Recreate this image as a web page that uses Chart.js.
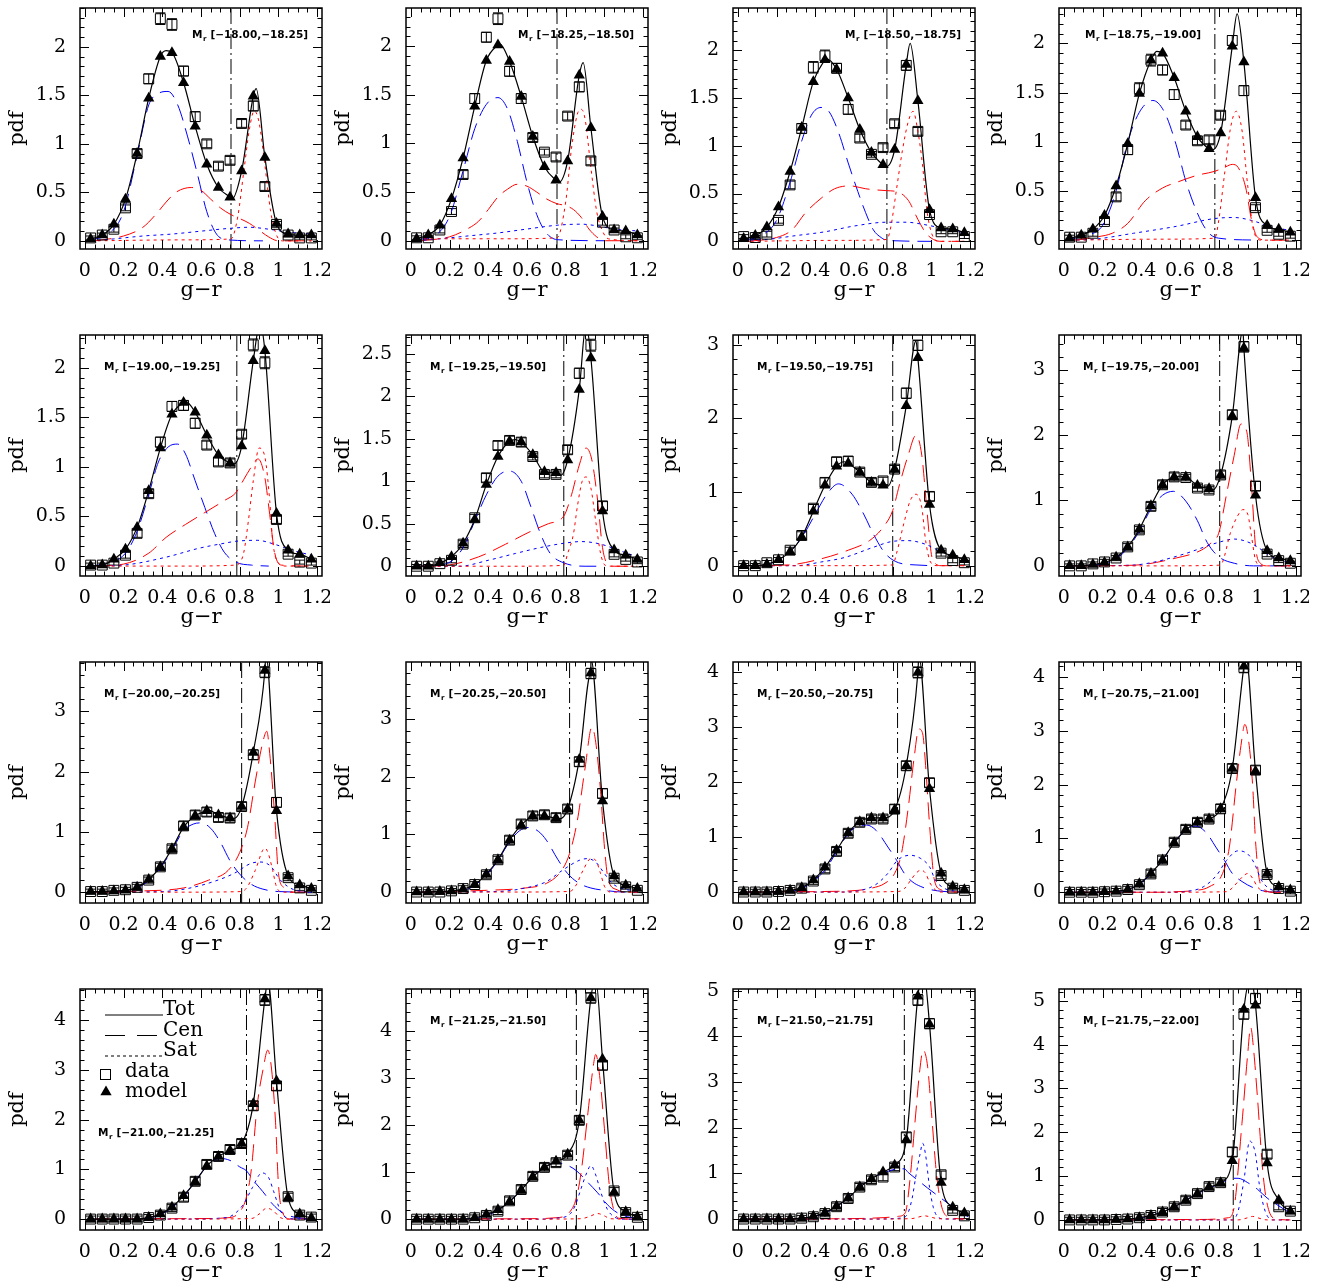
<!DOCTYPE html>
<html>
<head>
<meta charset="utf-8">
<script src="https://cdn.jsdelivr.net/npm/chart.js@4.4.1/dist/chart.umd.min.js"></script>
<style>
  html, body { margin: 0; padding: 0; background: #fff; overflow: hidden; }
  #grid { position: relative; width: 1336px; height: 1282px; }
  #grid canvas { position: absolute; }
</style>
</head>
<body>
<div id="grid"></div>
<script>
// colour bins (g-r) shared by all magnitude panels
const colorBins = [0.03,0.09,0.15,0.21,0.27,0.33,0.39,0.45,0.51,0.57,0.63,0.69,0.75,0.81,0.87,0.93,0.99,1.05,1.11,1.17];

const magBins = ['[−18.00,−18.25]','[−18.25,−18.50]','[−18.50,−18.75]','[−18.75,−19.00]',
                 '[−19.00,−19.25]','[−19.25,−19.50]','[−19.50,−19.75]','[−19.75,−20.00]',
                 '[−20.00,−20.25]','[−20.25,−20.50]','[−20.50,−20.75]','[−20.75,−21.00]',
                 '[−21.00,−21.25]','[−21.25,−21.50]','[−21.50,−21.75]','[−21.75,−22.00]'];

// red/blue dividing colour in each bin
const redCut = [0.755,0.755,0.77,0.78,0.785,0.79,0.80,0.805,0.81,0.82,0.825,0.83,0.835,0.855,0.86,0.875];

const yLow  = [-0.084,-0.085,-0.08,-0.09,-0.1,-0.115,-0.14,-0.155,-0.18,-0.19,-0.2,-0.2,-0.22,-0.23,-0.24,-0.23];
const yHigh = [2.4,2.39,2.44,2.36,2.33,2.72,3.13,3.53,3.82,3.99,4.19,4.28,4.63,4.89,5.04,5.27];
const yStep = [0.5,0.5,0.5,0.5,0.5,0.5,1,1,1,1,1,1,1,1,1,1];

// measured pdf (squares) with errors
const dataPdf = [
  [0.03,0.06,0.12,0.34,0.90,1.67,2.29,2.23,1.75,1.28,1.00,0.77,0.83,1.21,1.39,0.56,0.17,0.06,0.03,0.03],
  [0.03,0.03,0.11,0.30,0.68,1.46,2.09,2.28,1.74,1.46,1.06,0.91,0.86,1.28,1.58,0.82,0.19,0.11,0.04,0.03],
  [0.05,0.04,0.075,0.22,0.59,1.18,1.82,1.94,1.81,1.38,1.08,0.91,0.98,1.23,1.84,1.15,0.28,0.10,0.10,0.05],
  [0.03,0.03,0.07,0.19,0.44,0.92,1.54,1.83,1.73,1.48,1.17,1.01,1.02,1.27,2.03,1.52,0.33,0.10,0.06,0.04],
  [0.01,0.01,0.03,0.11,0.33,0.73,1.25,1.61,1.62,1.44,1.22,1.05,1.04,1.33,2.23,2.05,0.47,0.12,0.04,0.03],
  [0.0,0.0,0.03,0.07,0.26,0.57,1.04,1.42,1.48,1.46,1.29,1.08,1.08,1.37,2.27,2.60,0.71,0.14,0.08,0.05],
  [0.0,0.0,0.04,0.08,0.21,0.41,0.78,1.13,1.41,1.42,1.27,1.13,1.15,1.31,2.34,2.99,0.94,0.17,0.07,0.04],
  [0.0,0.0,0.03,0.06,0.12,0.29,0.55,0.91,1.24,1.36,1.35,1.19,1.16,1.39,2.31,3.35,1.22,0.18,0.08,0.04],
  [0.01,0.01,0.03,0.04,0.08,0.20,0.42,0.72,1.10,1.28,1.33,1.24,1.23,1.42,2.28,3.65,1.49,0.24,0.07,0.03],
  [0.0,0.0,0.0,0.02,0.06,0.13,0.30,0.56,0.90,1.18,1.32,1.34,1.29,1.44,2.26,3.79,1.71,0.24,0.09,0.03],
  [0.0,0.0,0.0,0.01,0.03,0.07,0.20,0.42,0.74,1.07,1.27,1.33,1.33,1.51,2.30,4.00,1.99,0.30,0.07,0.03],
  [0.0,0.0,0.0,0.01,0.02,0.05,0.14,0.34,0.60,0.93,1.17,1.30,1.36,1.55,2.30,4.18,2.27,0.33,0.07,0.02],
  [0.0,0.0,0.0,0.0,0.0,0.03,0.08,0.22,0.44,0.76,1.10,1.26,1.40,1.52,2.28,4.41,2.68,0.45,0.08,0.04],
  [0.0,0.0,0.0,0.0,0.0,0.03,0.08,0.17,0.39,0.63,0.91,1.10,1.20,1.36,2.10,4.70,3.27,0.60,0.14,0.04],
  [0.0,0.0,0.0,0.0,0.0,0.02,0.05,0.12,0.27,0.45,0.70,0.86,0.92,1.14,1.80,4.80,4.28,0.97,0.19,0.07],
  [0.0,0.0,0.0,0.0,0.01,0.02,0.05,0.10,0.18,0.30,0.45,0.60,0.76,0.85,1.55,4.70,5.05,1.50,0.30,0.20]
];
const dataErr = [
  [0.02,0.02,0.03,0.03,0.04,0.05,0.06,0.06,0.05,0.05,0.04,0.04,0.04,0.04,0.05,0.04,0.03,0.02,0.02,0.02],
  [0.02,0.02,0.03,0.03,0.04,0.05,0.05,0.06,0.05,0.05,0.04,0.03,0.04,0.04,0.05,0.04,0.03,0.02,0.02,0.02],
  [0.02,0.02,0.03,0.03,0.04,0.05,0.06,0.06,0.05,0.05,0.04,0.03,0.04,0.04,0.05,0.04,0.03,0.02,0.02,0.02],
  [0.02,0.02,0.03,0.03,0.04,0.05,0.06,0.06,0.05,0.05,0.04,0.04,0.04,0.04,0.05,0.05,0.03,0.02,0.02,0.02],
  [0.02,0.02,0.02,0.03,0.04,0.04,0.05,0.05,0.05,0.05,0.04,0.04,0.04,0.04,0.06,0.06,0.04,0.02,0.02,0.02],
  [0.02,0.02,0.02,0.03,0.04,0.04,0.05,0.05,0.05,0.05,0.04,0.04,0.04,0.05,0.06,0.07,0.05,0.03,0.02,0.02],
  [0.03,0.03,0.03,0.03,0.04,0.05,0.05,0.06,0.06,0.06,0.05,0.05,0.05,0.05,0.07,0.07,0.06,0.04,0.03,0.03],
  [0.03,0.03,0.03,0.04,0.04,0.05,0.05,0.06,0.06,0.06,0.05,0.05,0.05,0.06,0.07,0.08,0.07,0.04,0.03,0.03],
  [0.04,0.04,0.04,0.04,0.05,0.05,0.06,0.06,0.07,0.07,0.07,0.07,0.07,0.07,0.08,0.09,0.08,0.05,0.04,0.04],
  [0.04,0.04,0.04,0.04,0.05,0.05,0.06,0.06,0.07,0.07,0.07,0.07,0.07,0.07,0.08,0.09,0.08,0.05,0.04,0.04],
  [0.05,0.05,0.05,0.05,0.05,0.06,0.06,0.07,0.07,0.07,0.07,0.07,0.07,0.08,0.08,0.10,0.08,0.06,0.05,0.05],
  [0.05,0.05,0.05,0.05,0.05,0.06,0.06,0.07,0.07,0.07,0.07,0.07,0.07,0.08,0.08,0.10,0.08,0.06,0.05,0.05],
  [0.06,0.06,0.06,0.06,0.06,0.06,0.07,0.07,0.08,0.08,0.08,0.08,0.08,0.08,0.09,0.11,0.09,0.07,0.06,0.06],
  [0.06,0.06,0.06,0.06,0.06,0.06,0.07,0.07,0.08,0.08,0.08,0.08,0.08,0.08,0.09,0.11,0.10,0.07,0.06,0.06],
  [0.06,0.06,0.06,0.06,0.06,0.06,0.07,0.07,0.08,0.08,0.08,0.08,0.08,0.08,0.09,0.12,0.11,0.08,0.06,0.06],
  [0.06,0.06,0.06,0.06,0.06,0.06,0.07,0.07,0.08,0.08,0.08,0.08,0.08,0.08,0.10,0.12,0.12,0.09,0.07,0.06]
];

// model pdf in the same bins (triangles)
const modelPdf = [
  [0.02,0.06,0.17,0.43,0.90,1.47,1.90,1.94,1.63,1.18,0.79,0.55,0.45,0.72,1.49,0.86,0.18,0.07,0.06,0.06],
  [0.02,0.06,0.16,0.43,0.85,1.38,1.85,2.01,1.84,1.48,1.07,0.76,0.62,0.82,1.70,1.16,0.25,0.11,0.10,0.06],
  [0.03,0.06,0.15,0.36,0.73,1.19,1.67,1.90,1.80,1.50,1.17,0.93,0.80,0.96,1.85,1.47,0.33,0.14,0.13,0.09],
  [0.02,0.05,0.11,0.25,0.55,0.98,1.49,1.83,1.90,1.65,1.31,1.05,0.93,1.09,1.97,1.81,0.43,0.15,0.11,0.08],
  [0.0,0.01,0.07,0.17,0.39,0.76,1.19,1.53,1.65,1.55,1.32,1.12,1.04,1.21,2.07,2.17,0.53,0.16,0.12,0.07],
  [0.0,0.0,0.04,0.11,0.27,0.55,0.96,1.29,1.47,1.46,1.31,1.11,1.10,1.25,2.08,2.45,0.65,0.19,0.13,0.08],
  [0.0,0.0,0.02,0.08,0.19,0.39,0.74,1.09,1.35,1.39,1.27,1.13,1.09,1.31,2.17,2.82,0.83,0.21,0.14,0.08],
  [0.0,0.0,0.02,0.05,0.13,0.29,0.56,0.92,1.24,1.36,1.36,1.23,1.18,1.39,2.29,3.33,1.08,0.23,0.12,0.08],
  [0.01,0.01,0.02,0.03,0.08,0.21,0.42,0.72,1.08,1.27,1.35,1.28,1.23,1.42,2.32,3.68,1.35,0.27,0.12,0.06],
  [0.0,0.0,0.01,0.02,0.05,0.13,0.31,0.56,0.90,1.16,1.32,1.32,1.28,1.44,2.30,3.80,1.58,0.28,0.12,0.06],
  [0.0,0.0,0.0,0.01,0.03,0.08,0.22,0.45,0.76,1.08,1.28,1.35,1.35,1.50,2.30,4.00,1.88,0.34,0.10,0.04],
  [0.0,0.0,0.0,0.01,0.02,0.05,0.16,0.35,0.60,0.92,1.16,1.30,1.36,1.55,2.30,4.20,2.25,0.35,0.10,0.04],
  [0.0,0.0,0.0,0.0,0.0,0.03,0.10,0.24,0.47,0.75,1.07,1.26,1.38,1.52,2.32,4.43,2.78,0.43,0.10,0.02],
  [0.0,0.0,0.0,0.0,0.0,0.03,0.10,0.20,0.37,0.62,0.90,1.10,1.23,1.38,2.10,4.70,3.40,0.57,0.16,0.05],
  [0.0,0.0,0.0,0.0,0.0,0.02,0.06,0.14,0.28,0.46,0.70,0.88,1.03,1.18,1.73,4.88,4.27,0.80,0.26,0.13],
  [0.0,0.0,0.0,0.0,0.01,0.02,0.05,0.10,0.18,0.30,0.45,0.60,0.75,0.85,1.35,4.80,4.90,1.30,0.45,0.20]
];

// turning points of the total model curve between bin centres
const totPeaks = [
  [[0.42,1.96],[0.76,0.43],[0.885,1.57]],
  [[0.46,2.02],[0.765,0.60],[0.89,1.83]],
  [[0.455,1.91],[0.765,0.78],[0.89,2.07]],
  [[0.48,1.92],[0.77,0.92],[0.895,2.3]],
  [[0.52,1.66],[0.77,1.03],[0.905,2.45]],
  [[0.54,1.49],[0.775,1.07],[0.905,2.85]],
  [[0.55,1.41],[0.775,1.08],[0.92,3.05]],
  [[0.6,1.37],[0.77,1.16],[0.925,3.6]],
  [[0.64,1.36],[0.77,1.22],[0.935,3.95]],
  [[0.665,1.34],[0.77,1.27],[0.93,4.05]],
  [[0.935,4.3]],
  [[0.94,4.4]],
  [[0.945,4.8]],
  [[0.955,5.1]],
  [[0.96,5.4]],
  [[0.965,5.5]]
];

// central blue galaxies (blue long dash)
const cenBlue = [
  [[0.02,0.01],[0.12,0.07],[0.2,0.3],[0.27,0.88],[0.33,1.4],[0.38,1.52],[0.43,1.54],[0.48,1.4],[0.53,1.08],[0.58,0.7],[0.63,0.3],[0.68,0.07],[0.74,0.01],[0.92,0.0]],
  [[0.02,0.01],[0.12,0.05],[0.2,0.25],[0.27,0.72],[0.33,1.15],[0.39,1.4],[0.45,1.47],[0.5,1.35],[0.55,1.02],[0.6,0.6],[0.65,0.27],[0.7,0.08],[0.76,0.01],[1.0,0.0]],
  [[0.02,0.01],[0.12,0.06],[0.2,0.22],[0.27,0.62],[0.33,1.05],[0.38,1.32],[0.43,1.40],[0.47,1.36],[0.52,1.14],[0.57,0.82],[0.62,0.52],[0.66,0.3],[0.7,0.12],[0.74,0.04],[0.77,0.01],[1.0,0.0]],
  [[0.02,0.01],[0.12,0.05],[0.2,0.15],[0.27,0.5],[0.33,1.0],[0.39,1.3],[0.46,1.42],[0.52,1.3],[0.58,0.97],[0.63,0.6],[0.7,0.23],[0.75,0.07],[0.8,0.02],[1.0,0.0]],
  [[0.02,0.0],[0.12,0.03],[0.21,0.13],[0.27,0.35],[0.33,0.72],[0.38,1.05],[0.43,1.2],[0.48,1.23],[0.52,1.13],[0.57,0.86],[0.62,0.59],[0.67,0.33],[0.72,0.14],[0.78,0.04],[0.86,0.01],[0.95,0.0]],
  [[0.02,0.0],[0.12,0.01],[0.21,0.06],[0.27,0.22],[0.33,0.53],[0.39,0.84],[0.45,1.06],[0.51,1.12],[0.57,1.0],[0.62,0.7],[0.67,0.38],[0.72,0.15],[0.79,0.04],[0.9,0.0],[1.0,0.0]],
  [[0.02,0.0],[0.15,0.02],[0.26,0.17],[0.33,0.38],[0.4,0.7],[0.46,0.97],[0.52,1.11],[0.59,0.97],[0.65,0.7],[0.7,0.43],[0.76,0.17],[0.83,0.04],[0.92,0.01],[1.0,0.0]],
  [[0.02,0.0],[0.15,0.01],[0.27,0.11],[0.33,0.27],[0.39,0.53],[0.45,0.87],[0.51,1.08],[0.565,1.14],[0.63,0.99],[0.69,0.69],[0.74,0.36],[0.8,0.14],[0.88,0.04],[0.98,0.0],[1.17,0.0]],
  [[0.02,0.0],[0.2,0.02],[0.3,0.12],[0.39,0.4],[0.45,0.7],[0.51,1.02],[0.56,1.13],[0.6,1.15],[0.65,1.06],[0.7,0.83],[0.75,0.52],[0.8,0.3],[0.86,0.13],[0.92,0.05],[1.0,0.01],[1.17,0.0]],
  [[0.02,0.0],[0.2,0.01],[0.3,0.06],[0.39,0.29],[0.45,0.55],[0.51,0.87],[0.56,1.06],[0.61,1.12],[0.66,1.05],[0.7,0.9],[0.76,0.56],[0.81,0.32],[0.87,0.15],[0.93,0.07],[1.0,0.03],[1.1,0.0],[1.17,0.0]],
  [[0.02,0.0],[0.25,0.01],[0.33,0.06],[0.39,0.2],[0.45,0.4],[0.51,0.73],[0.57,1.06],[0.62,1.2],[0.665,1.22],[0.715,1.12],[0.775,0.82],[0.82,0.58],[0.86,0.34],[0.9,0.19],[0.945,0.1],[1.0,0.04],[1.065,0.01],[1.17,0.0]],
  [[0.02,0.0],[0.27,0.01],[0.33,0.05],[0.39,0.15],[0.45,0.34],[0.51,0.6],[0.57,0.92],[0.63,1.16],[0.68,1.23],[0.735,1.11],[0.785,0.84],[0.83,0.59],[0.87,0.35],[0.92,0.2],[0.975,0.09],[1.025,0.03],[1.1,0.0],[1.17,0.0]],
  [[0.02,0.0],[0.3,0.01],[0.39,0.09],[0.45,0.23],[0.51,0.45],[0.57,0.76],[0.63,1.06],[0.7,1.22],[0.75,1.18],[0.8,1.05],[0.835,0.97],[0.87,0.78],[0.92,0.55],[0.97,0.3],[1.02,0.13],[1.08,0.04],[1.17,0.0]],
  [[0.02,0.0],[0.3,0.01],[0.39,0.08],[0.45,0.19],[0.51,0.38],[0.57,0.62],[0.63,0.9],[0.69,1.1],[0.75,1.2],[0.8,1.16],[0.855,1.03],[0.91,0.8],[0.965,0.56],[1.015,0.31],[1.065,0.14],[1.12,0.05],[1.17,0.02]],
  [[0.02,0.0],[0.33,0.01],[0.39,0.05],[0.45,0.13],[0.51,0.27],[0.57,0.46],[0.63,0.7],[0.69,0.88],[0.75,1.0],[0.8,1.08],[0.86,1.1],[0.88,1.02],[0.93,0.85],[0.98,0.68],[1.03,0.52],[1.08,0.36],[1.13,0.2],[1.19,0.05]],
  [[0.02,0.0],[0.33,0.01],[0.45,0.1],[0.57,0.3],[0.69,0.6],[0.8,0.82],[0.875,0.95],[0.9,0.95],[0.95,0.85],[1.0,0.7],[1.05,0.5],[1.1,0.35],[1.17,0.15]]
];

// central red galaxies (red long dash)
const cenRed = [
  [[0.05,0.0],[0.2,0.05],[0.3,0.14],[0.37,0.28],[0.42,0.4],[0.47,0.5],[0.55,0.55],[0.6,0.52],[0.65,0.43],[0.7,0.34],[0.755,0.27],[0.8,0.23],[0.85,0.18],[0.9,0.11],[0.95,0.04],[1.0,0.0],[1.17,0.0]],
  [[0.05,0.0],[0.2,0.04],[0.3,0.13],[0.35,0.2],[0.4,0.32],[0.45,0.45],[0.5,0.53],[0.55,0.58],[0.6,0.56],[0.65,0.5],[0.7,0.43],[0.755,0.38],[0.8,0.36],[0.84,0.32],[0.88,0.24],[0.92,0.12],[0.96,0.04],[1.0,0.0],[1.17,0.0]],
  [[0.05,0.0],[0.2,0.04],[0.28,0.12],[0.35,0.3],[0.43,0.45],[0.5,0.55],[0.58,0.58],[0.66,0.55],[0.77,0.53],[0.82,0.52],[0.88,0.43],[0.93,0.23],[0.97,0.09],[1.01,0.02],[1.05,0.0],[1.17,0.0]],
  [[0.05,0.0],[0.16,0.03],[0.25,0.07],[0.33,0.17],[0.42,0.4],[0.51,0.53],[0.6,0.6],[0.69,0.66],[0.78,0.7],[0.83,0.74],[0.87,0.77],[0.9,0.74],[0.94,0.53],[0.97,0.2],[1.0,0.03],[1.05,0.0],[1.17,0.0]],
  [[0.05,0.0],[0.2,0.02],[0.33,0.13],[0.42,0.29],[0.52,0.42],[0.62,0.54],[0.72,0.66],[0.78,0.74],[0.82,0.87],[0.86,1.0],[0.895,1.08],[0.93,0.89],[0.955,0.52],[0.98,0.14],[1.015,0.01],[1.17,0.0]],
  [[0.05,0.0],[0.18,0.01],[0.35,0.11],[0.49,0.26],[0.61,0.4],[0.71,0.5],[0.79,0.59],[0.83,0.84],[0.87,1.19],[0.905,1.39],[0.935,1.25],[0.965,0.77],[0.99,0.22],[1.015,0.03],[1.05,0.0],[1.17,0.0]],
  [[0.05,0.0],[0.26,0.01],[0.44,0.1],[0.57,0.21],[0.68,0.34],[0.75,0.52],[0.8,0.75],[0.835,1.1],[0.88,1.5],[0.92,1.77],[0.95,1.5],[0.975,0.8],[1.0,0.15],[1.02,0.03],[1.05,0.0],[1.17,0.0]],
  [[0.05,0.0],[0.36,0.01],[0.58,0.12],[0.71,0.24],[0.76,0.35],[0.8,0.5],[0.84,1.09],[0.88,1.69],[0.915,2.17],[0.945,2.05],[0.97,1.2],[0.99,0.3],[1.015,0.04],[1.05,0.0],[1.17,0.0]],
  [[0.05,0.0],[0.3,0.02],[0.51,0.07],[0.64,0.2],[0.74,0.36],[0.8,0.66],[0.84,1.07],[0.88,1.83],[0.92,2.5],[0.94,2.67],[0.955,2.3],[0.98,1.3],[1.0,0.31],[1.03,0.07],[1.06,0.0],[1.17,0.0]],
  [[0.05,0.0],[0.39,0.03],[0.59,0.07],[0.7,0.15],[0.78,0.38],[0.82,0.67],[0.86,1.24],[0.9,2.15],[0.935,2.86],[0.955,2.6],[0.98,1.75],[1.0,0.78],[1.02,0.21],[1.065,0.04],[1.1,0.0],[1.17,0.0]],
  [[0.05,0.0],[0.45,0.01],[0.62,0.03],[0.69,0.07],[0.76,0.16],[0.81,0.34],[0.845,0.7],[0.88,1.53],[0.91,2.43],[0.935,2.97],[0.955,2.88],[0.97,2.3],[0.99,1.24],[1.015,0.22],[1.05,0.04],[1.1,0.0],[1.17,0.0]],
  [[0.05,0.0],[0.5,0.0],[0.58,0.01],[0.67,0.03],[0.75,0.1],[0.82,0.35],[0.855,0.84],[0.89,1.99],[0.915,2.73],[0.935,3.12],[0.955,2.8],[0.975,2.0],[0.99,0.96],[1.01,0.23],[1.04,0.04],[1.08,0.0],[1.17,0.0]],
  [[0.05,0.0],[0.6,0.01],[0.75,0.03],[0.81,0.2],[0.835,0.45],[0.86,1.0],[0.89,2.28],[0.92,3.0],[0.945,3.4],[0.965,3.0],[0.985,1.95],[1.0,0.7],[1.025,0.1],[1.06,0.0],[1.17,0.0]],
  [[0.05,0.0],[0.6,0.01],[0.75,0.03],[0.82,0.15],[0.855,0.45],[0.88,1.01],[0.915,2.27],[0.94,3.18],[0.955,3.5],[0.975,3.05],[1.0,1.92],[1.025,0.73],[1.05,0.17],[1.075,0.02],[1.17,0.0]],
  [[0.05,0.0],[0.6,0.01],[0.75,0.03],[0.83,0.06],[0.865,0.14],[0.89,0.9],[0.915,2.12],[0.94,3.27],[0.957,3.7],[0.98,3.35],[1.0,2.34],[1.025,1.04],[1.05,0.32],[1.085,0.05],[1.17,0.0]],
  [[0.05,0.0],[0.7,0.01],[0.85,0.05],[0.88,0.3],[0.92,2.2],[0.95,3.8],[0.965,4.4],[0.98,3.9],[1.0,2.8],[1.03,1.0],[1.06,0.2],[1.1,0.02],[1.17,0.0]]
];

// satellite blue galaxies (blue dots)
const satBlue = [
  [[0.03,0.0],[0.15,0.02],[0.3,0.05],[0.45,0.07],[0.6,0.1],[0.755,0.13],[0.85,0.14],[0.95,0.12],[1.05,0.09],[1.17,0.07]],
  [[0.03,0.0],[0.15,0.02],[0.3,0.05],[0.45,0.08],[0.6,0.12],[0.76,0.16],[0.88,0.17],[0.97,0.15],[1.05,0.12],[1.17,0.1]],
  [[0.03,0.01],[0.15,0.02],[0.3,0.06],[0.45,0.1],[0.6,0.16],[0.77,0.2],[0.87,0.2],[0.95,0.18],[1.05,0.14],[1.17,0.09]],
  [[0.03,0.0],[0.16,0.01],[0.36,0.07],[0.58,0.14],[0.78,0.22],[0.88,0.23],[0.97,0.2],[1.08,0.13],[1.17,0.1]],
  [[0.03,0.0],[0.2,0.01],[0.42,0.09],[0.59,0.18],[0.72,0.23],[0.78,0.25],[0.89,0.26],[0.98,0.22],[1.07,0.16],[1.17,0.11]],
  [[0.03,0.0],[0.25,0.0],[0.4,0.07],[0.54,0.15],[0.67,0.22],[0.79,0.27],[0.88,0.29],[0.98,0.26],[1.07,0.19],[1.17,0.11]],
  [[0.03,0.0],[0.3,0.0],[0.43,0.05],[0.55,0.11],[0.7,0.25],[0.8,0.33],[0.88,0.34],[0.97,0.29],[1.05,0.19],[1.17,0.08]],
  [[0.03,0.0],[0.35,0.01],[0.47,0.06],[0.62,0.18],[0.8,0.36],[0.88,0.41],[0.97,0.34],[1.08,0.13],[1.17,0.04]],
  [[0.03,0.0],[0.4,0.01],[0.53,0.06],[0.66,0.17],[0.77,0.31],[0.86,0.48],[0.91,0.5],[0.96,0.43],[1.01,0.2],[1.08,0.04],[1.17,0.0]],
  [[0.03,0.0],[0.45,0.01],[0.59,0.07],[0.7,0.18],[0.78,0.37],[0.87,0.55],[0.91,0.58],[0.955,0.52],[1.0,0.32],[1.04,0.15],[1.13,0.03],[1.17,0.02]],
  [[0.03,0.0],[0.55,0.0],[0.62,0.02],[0.71,0.13],[0.775,0.34],[0.825,0.58],[0.89,0.67],[0.945,0.61],[0.99,0.46],[1.02,0.22],[1.065,0.07],[1.13,0.01],[1.17,0.0]],
  [[0.03,0.0],[0.55,0.0],[0.62,0.01],[0.72,0.1],[0.79,0.32],[0.84,0.59],[0.9,0.77],[0.95,0.71],[0.985,0.53],[1.02,0.23],[1.06,0.07],[1.13,0.01],[1.17,0.0]],
  [[0.03,0.0],[0.6,0.0],[0.7,0.02],[0.75,0.05],[0.82,0.3],[0.865,0.63],[0.915,0.93],[0.95,0.83],[0.975,0.56],[1.01,0.17],[1.04,0.03],[1.1,0.0],[1.17,0.0]],
  [[0.03,0.0],[0.65,0.0],[0.75,0.02],[0.82,0.1],[0.85,0.3],[0.88,0.66],[0.91,1.0],[0.93,1.14],[0.955,0.94],[0.98,0.59],[1.015,0.21],[1.05,0.05],[1.1,0.0],[1.17,0.0]],
  [[0.03,0.0],[0.7,0.0],[0.84,0.02],[0.875,0.1],[0.9,0.45],[0.92,0.95],[0.94,1.4],[0.955,1.66],[0.97,1.4],[0.99,0.7],[1.01,0.25],[1.035,0.04],[1.07,0.0],[1.17,0.0]],
  [[0.03,0.0],[0.87,0.0],[0.9,0.2],[0.93,0.9],[0.96,1.8],[0.99,1.5],[1.01,0.8],[1.04,0.2],[1.08,0.0],[1.17,0.0]]
];

// satellite red galaxies (red dots)
const satRed = [
  [[0.03,0.0],[0.5,0.01],[0.755,0.02],[0.79,0.25],[0.82,0.7],[0.85,1.15],[0.875,1.34],[0.9,1.22],[0.93,0.78],[0.96,0.3],[0.99,0.06],[1.02,0.0],[1.17,0.0]],
  [[0.03,0.02],[0.5,0.02],[0.755,0.03],[0.8,0.4],[0.83,0.95],[0.86,1.3],[0.88,1.35],[0.9,1.25],[0.93,0.75],[0.96,0.3],[0.99,0.1],[1.02,0.02],[1.17,0.0]],
  [[0.03,0.0],[0.5,0.01],[0.77,0.02],[0.79,0.15],[0.82,0.55],[0.85,0.95],[0.88,1.25],[0.905,1.36],[0.93,1.15],[0.955,0.78],[0.975,0.35],[1.0,0.09],[1.04,0.0],[1.17,0.0]],
  [[0.03,0.0],[0.5,0.01],[0.78,0.02],[0.8,0.2],[0.83,0.67],[0.86,1.13],[0.89,1.31],[0.92,1.12],[0.95,0.55],[0.98,0.1],[1.02,0.0],[1.17,0.0]],
  [[0.03,0.0],[0.5,0.0],[0.78,0.01],[0.82,0.13],[0.845,0.46],[0.87,0.86],[0.9,1.19],[0.93,1.1],[0.955,0.66],[0.97,0.26],[1.0,0.03],[1.04,0.0],[1.17,0.0]],
  [[0.03,0.0],[0.5,0.0],[0.79,0.01],[0.81,0.15],[0.84,0.38],[0.86,0.7],[0.885,1.0],[0.905,1.05],[0.93,0.92],[0.955,0.53],[0.98,0.15],[1.005,0.01],[1.05,0.0],[1.17,0.0]],
  [[0.03,0.0],[0.5,0.0],[0.8,0.01],[0.82,0.17],[0.86,0.6],[0.89,0.88],[0.92,0.97],[0.95,0.79],[0.97,0.34],[0.995,0.05],[1.03,0.0],[1.17,0.0]],
  [[0.03,0.0],[0.5,0.0],[0.8,0.01],[0.82,0.06],[0.86,0.5],[0.895,0.75],[0.925,0.86],[0.95,0.79],[0.97,0.44],[0.99,0.09],[1.02,0.0],[1.17,0.0]],
  [[0.03,0.0],[0.5,0.0],[0.81,0.01],[0.84,0.09],[0.88,0.36],[0.93,0.73],[0.95,0.62],[0.97,0.36],[0.99,0.09],[1.02,0.0],[1.17,0.0]],
  [[0.03,0.0],[0.5,0.0],[0.82,0.01],[0.85,0.1],[0.89,0.38],[0.93,0.58],[0.955,0.55],[0.98,0.32],[1.0,0.1],[1.03,0.0],[1.17,0.0]],
  [[0.03,0.0],[0.5,0.0],[0.83,0.01],[0.86,0.06],[0.89,0.2],[0.92,0.34],[0.945,0.4],[0.97,0.34],[0.99,0.18],[1.02,0.04],[1.05,0.0],[1.17,0.0]],
  [[0.03,0.0],[0.5,0.0],[0.84,0.01],[0.87,0.08],[0.9,0.2],[0.93,0.31],[0.95,0.35],[0.975,0.26],[1.0,0.1],[1.025,0.03],[1.06,0.0],[1.17,0.0]],
  [[0.03,0.0],[0.5,0.0],[0.86,0.01],[0.9,0.1],[0.94,0.22],[0.975,0.16],[1.01,0.03],[1.05,0.0],[1.17,0.0]],
  [[0.03,0.0],[0.6,0.0],[0.88,0.01],[0.93,0.07],[0.965,0.12],[1.0,0.07],[1.03,0.01],[1.17,0.0]],
  [[0.03,0.0],[0.7,0.0],[0.9,0.01],[0.93,0.04],[0.965,0.07],[1.0,0.04],[1.03,0.01],[1.17,0.0]],
  [[0.03,0.0],[0.9,0.0],[0.95,0.05],[0.975,0.08],[1.0,0.05],[1.05,0.0],[1.17,0.0]]
];

const legendLabels = ['Tot', 'Cen', 'Sat', 'data', 'model'];

const BLUE = '#0000ff', RED = '#ff0000';
const SERIF = '"DejaVu Serif", serif';

const toXY = pairs => pairs.map(([x, y]) => ({x, y}));
const fmt = v => String(+v.toFixed(2));

function line(ctx, x1, y1, x2, y2) {
  ctx.beginPath(); ctx.moveTo(x1, y1); ctx.lineTo(x2, y2); ctx.stroke();
}

function triangle(ctx, cx, cy, r) {
  ctx.beginPath();
  ctx.moveTo(cx, cy - r);
  ctx.lineTo(cx + r * 0.866, cy + r / 2);
  ctx.lineTo(cx - r * 0.866, cy + r / 2);
  ctx.closePath(); ctx.fill();
}

// dash-dot colour cut and error bars go under the symbols,
// tick marks, frame and captions go on top
function panelDecor(i) {
  return {
    id: 'panelDecor',
    beforeDatasetsDraw(chart) {
      const {ctx, chartArea: a, scales: {x, y}} = chart;
      ctx.save();
      ctx.beginPath(); ctx.rect(a.left, a.top, a.width, a.height); ctx.clip();
      ctx.strokeStyle = '#000'; ctx.lineWidth = 1;
      ctx.setLineDash([15, 4, 2, 4]);
      const cx = x.getPixelForValue(redCut[i]);
      line(ctx, cx, a.bottom, cx, a.top);
      ctx.setLineDash([]);
      colorBins.forEach((g, k) => {
        const px = x.getPixelForValue(g);
        const lo = y.getPixelForValue(dataPdf[i][k] - dataErr[i][k]);
        const hi = y.getPixelForValue(dataPdf[i][k] + dataErr[i][k]);
        line(ctx, px, lo, px, hi);
        line(ctx, px - 5, lo, px + 5, lo);
        line(ctx, px - 5, hi, px + 5, hi);
      });
      ctx.restore();
    },
    afterDraw(chart) {
      const {ctx, chartArea: a, scales: {x, y}} = chart;
      ctx.save();
      ctx.strokeStyle = '#000'; ctx.fillStyle = '#000'; ctx.lineWidth = 1;
      // inward ticks on all four sides
      for (let k = 0; k <= 24; k++) {
        const px = Math.round(x.getPixelForValue(k * 0.05)) + 0.5;
        const len = k % 4 === 0 ? 9 : 4.5;
        line(ctx, px, a.bottom, px, a.bottom - len);
        line(ctx, px, a.top, px, a.top + len);
      }
      const minor = yStep[i] / 5;
      for (let k = 0; k * minor <= yHigh[i] + 1e-9; k++) {
        const py = Math.round(y.getPixelForValue(k * minor)) + 0.5;
        const len = k % 5 === 0 ? 9 : 4.5;
        line(ctx, a.left, py, a.left + len, py);
        line(ctx, a.right, py, a.right - len, py);
      }
      ctx.lineWidth = 1.5;
      ctx.strokeRect(a.left, a.top, a.width, a.height);

      // magnitude bin caption
      let tx, ty;
      if (i < 3) { tx = a.left + 112; ty = a.top + 30; }
      else if (i === 3) { tx = a.left + 26; ty = a.top + 30; }
      else if (i === 12) { tx = a.left + 18; ty = a.top + 147; }
      else { tx = a.left + 24; ty = a.top + 35; }
      ctx.textBaseline = 'alphabetic'; ctx.textAlign = 'left';
      ctx.font = 'bold 10.5px "DejaVu Sans"';
      ctx.fillText('M', tx, ty);
      tx += ctx.measureText('M').width + 0.5;
      ctx.font = 'bold 7px "DejaVu Sans"';
      ctx.fillText('r', tx, ty + 2.5);
      tx += ctx.measureText('r').width + 4;
      ctx.font = 'bold 10.5px "DejaVu Sans"';
      ctx.fillText(magBins[i], tx, ty);

      if (i === 12) {
        const lx = a.left + 25;
        ctx.font = '20px ' + SERIF;
        ctx.lineWidth = 1;
        [[], [20, 12], [3, 3]].forEach((dash, k) => {
          const by = a.top + 26 + 20.5 * k;
          ctx.setLineDash(dash);
          line(ctx, lx, by, lx + 58, by);
          ctx.setLineDash([]);
          ctx.fillText(legendLabels[k], lx + 58, by);
        });
        ctx.strokeRect(lx - 4.5, a.top + 80.5, 10, 10);
        ctx.fillText(legendLabels[3], lx + 20, a.top + 88);
        triangle(ctx, lx + 1, a.top + 103, 6.5);
        ctx.fillText(legendLabels[4], lx + 20, a.top + 108);
      }
      ctx.restore();
    }
  };
}

function curve(pairs, color, dash, order, width) {
  return {
    data: toXY(pairs), showLine: true, borderColor: color, borderWidth: width || 1,
    borderDash: dash, pointRadius: 0, pointHoverRadius: 0,
    cubicInterpolationMode: 'monotone', order
  };
}

const grid = document.getElementById('grid');
const colLeft = [0, 326, 653, 979];
const rowTop = [0, 327, 654, 981];

for (let i = 0; i < 16; i++) {
  const cv = document.createElement('canvas');
  cv.width = 330; cv.height = 327;
  cv.style.left = colLeft[i % 4] + 'px';
  cv.style.top = rowTop[Math.floor(i / 4)] + 'px';
  grid.appendChild(cv);

  const total = colorBins.map((g, k) => [g, modelPdf[i][k]])
    .concat(totPeaks[i]).sort((p, q) => p[0] - q[0]);

  const yTicks = [];
  for (let v = 0; v <= yHigh[i] + 1e-9; v += yStep[i]) yTicks.push({value: +v.toFixed(2)});

  new Chart(cv, {
    type: 'scatter',
    data: {
      datasets: [
        { data: colorBins.map((g, k) => ({x: g, y: modelPdf[i][k]})), pointStyle: 'triangle',
          pointRadius: 6.5, pointHoverRadius: 6.5, backgroundColor: '#000', borderColor: '#000',
          borderWidth: 0, order: 0 },
        { data: colorBins.map((g, k) => ({x: g, y: dataPdf[i][k]})), pointStyle: 'rect',
          pointRadius: 7, pointHoverRadius: 7, backgroundColor: 'rgba(0,0,0,0)', borderColor: '#000',
          borderWidth: 1, order: 1 },
        curve(total, '#000', [], 2, 1.2),
        curve(satRed[i], RED, [3, 4], 3),
        curve(satBlue[i], BLUE, [3, 4], 4),
        curve(cenRed[i], RED, [17, 8], 5),
        curve(cenBlue[i], BLUE, [17, 8], 6)
      ]
    },
    options: {
      responsive: false, animation: false, devicePixelRatio: 1,
      events: [],
      layout: { padding: { top: 4, right: 5, bottom: 0, left: 0 } },
      plugins: { legend: { display: false }, tooltip: { enabled: false } },
      scales: {
        x: {
          type: 'linear', min: -0.025, max: 1.225,
          grid: { display: false, drawTicks: false }, border: { display: false },
          afterBuildTicks: s => { s.ticks = [0, 0.2, 0.4, 0.6, 0.8, 1, 1.2].map(v => ({value: v})); },
          afterFit: s => { s.height = 78; s.paddingLeft = 0; s.paddingRight = 0; },
          ticks: { callback: fmt, autoSkip: false, maxRotation: 0, padding: 11, color: '#000',
                   font: { family: SERIF, size: 19 } },
          title: { display: true, text: 'g−r', color: '#000', font: { family: SERIF, size: 21 },
                   padding: { top: 0, bottom: 24 } }
        },
        y: {
          type: 'linear', min: yLow[i], max: yHigh[i],
          grid: { display: false, drawTicks: false }, border: { display: false },
          afterBuildTicks: s => { s.ticks = yTicks; },
          afterFit: s => { s.width = 80; s.paddingTop = 0; s.paddingBottom = 0; },
          ticks: { callback: fmt, autoSkip: false, padding: 14, color: '#000',
                   font: { family: SERIF, size: 19 } },
          title: { display: true, text: 'pdf', color: '#000', font: { family: SERIF, size: 21 },
                   padding: { top: 5, bottom: 0 } }
        }
      }
    },
    plugins: [panelDecor(i)]
  });
}
</script>
</body>
</html>
